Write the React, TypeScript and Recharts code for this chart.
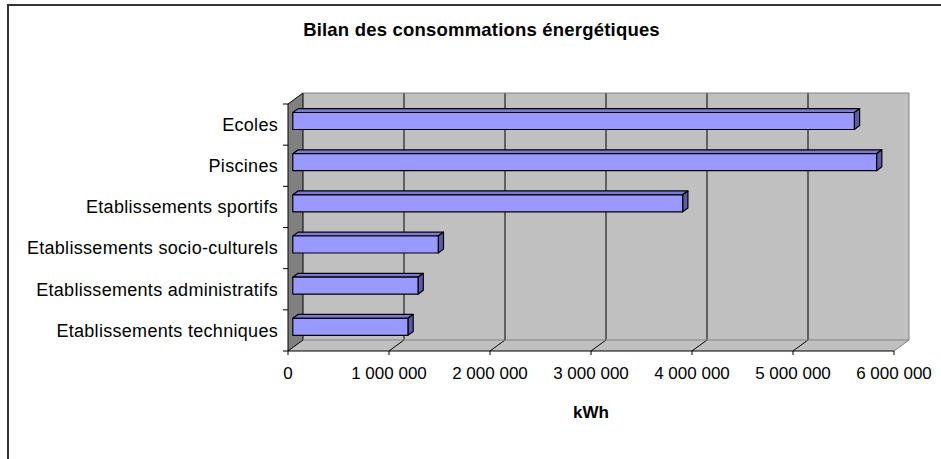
import { Bar, BarChart, ReferenceArea, XAxis, YAxis } from "recharts";

const categories = [
  "Ecoles",
  "Piscines",
  "Etablissements sportifs",
  "Etablissements socio-culturels",
  "Etablissements administratifs",
  "Etablissements techniques",
];
const consumption = [5560000, 5780000, 3860000, 1440000, 1240000, 1140000];
const xTicks = [0, 1000000, 2000000, 3000000, 4000000, 5000000, 6000000];

const FONT = '"Liberation Sans", Arial, sans-serif';
// 3D depth of the plot box (back wall offset) and bar depth fractions
const DX = 15;
const DY = 11;
const BAR_D1 = 0.32;
const BAR_D2 = 0.67;

const data = categories.map((name, i) => ({ name, kwh: consumption[i] }));

function formatKwh(v: number): string {
  return String(v).replace(/\B(?=(\d{3})+(?!\d))/g, " ");
}

function Walls(props: any) {
  const { x, y, width, height } = props;
  const max = xTicks[xTicks.length - 1];
  const bottom = y + height;
  return (
    <g>
      <rect x={x + DX} y={y - DY} width={width} height={height} fill="#c0c0c0" />
      <polygon
        points={`${x},${y} ${x + DX},${y - DY} ${x + DX},${bottom - DY} ${x},${bottom}`}
        fill="#808080"
      />
      <polygon
        points={`${x},${bottom} ${x + DX},${bottom - DY} ${x + width + DX},${bottom - DY} ${x + width},${bottom}`}
        fill="#c0c0c0"
      />
      {xTicks.map((t, i) => {
        const fx = x + (t / max) * width;
        const last = i === xTicks.length - 1;
        const stroke = last ? "#808080" : "#000";
        return (
          <g key={t}>
            <line x1={fx + DX} y1={y - DY} x2={fx + DX} y2={bottom - DY} stroke={stroke} />
            <line x1={fx} y1={bottom} x2={fx + DX} y2={bottom - DY} stroke={stroke} />
          </g>
        );
      })}
      <line x1={x + DX} y1={y - DY} x2={x + width + DX} y2={y - DY} stroke="#808080" />
      <line x1={x + DX} y1={bottom - DY} x2={x + width + DX} y2={bottom - DY} stroke="#808080" />
      <line x1={x} y1={y} x2={x + DX} y2={y - DY} stroke="#000" />
    </g>
  );
}

function Bar3D(props: any) {
  const { x, y, width, height } = props;
  if (width == null || width <= 0) return null;
  const fx = x + BAR_D1 * DX;
  const fy = y - BAR_D1 * DY;
  const dx = (BAR_D2 - BAR_D1) * DX;
  const dy = (BAR_D2 - BAR_D1) * DY;
  const r = fx + width;
  return (
    <g stroke="#000" strokeWidth={1.2} strokeLinejoin="round">
      <polygon
        points={`${fx},${fy} ${fx + dx},${fy - dy} ${r + dx},${fy - dy} ${r},${fy}`}
        fill="#7a7ad6"
      />
      <polygon
        points={`${r},${fy} ${r + dx},${fy - dy} ${r + dx},${fy + height - dy} ${r},${fy + height}`}
        fill="#5c5ca6"
      />
      <rect x={fx} y={fy} width={width} height={height} fill="#9999ff" />
    </g>
  );
}

function CategoryTick(props: any) {
  const { x, y, payload, index, visibleTicksCount } = props;
  const half = payload.offset ?? 20.6;
  const axisX = x + 10;
  return (
    <g>
      <line x1={axisX - 5} y1={y - half} x2={axisX} y2={y - half} stroke="#000" />
      {index === visibleTicksCount - 1 && (
        <line x1={axisX - 5} y1={y + half} x2={axisX} y2={y + half} stroke="#000" />
      )}
      <text
        x={x}
        y={y}
        dy="0.355em"
        textAnchor="end"
        fontSize={18}
        letterSpacing={0.3}
        fontFamily={FONT}
        fill="#000"
      >
        {payload.value}
      </text>
    </g>
  );
}

export default function App() {
  return (
    <div
      style={{
        position: "absolute",
        left: 0,
        top: 0,
        width: 941,
        height: 459,
        overflow: "hidden",
        background: "#fff",
      }}
    >
      <div
        style={{
          position: "absolute",
          left: 7,
          top: 4,
          width: 1200,
          height: 1200,
          borderTop: "2px solid #333",
          borderLeft: "2px solid #333",
        }}
      />
      <div
        style={{
          position: "absolute",
          left: 0,
          top: 20,
          width: 963,
          textAlign: "center",
          fontFamily: FONT,
          fontWeight: "bold",
          fontSize: 18.5,
          letterSpacing: 0.2,
          lineHeight: "20px",
        }}
      >
        Bilan des consommations énergétiques
      </div>
      <div style={{ position: "absolute", left: 0, top: 0 }}>
        <BarChart
          width={941}
          height={459}
          data={data}
          layout="vertical"
          margin={{ top: 104, right: 47, bottom: 0, left: 0 }}
        >
          <ReferenceArea
            x1={xTicks[0]}
            x2={xTicks[xTicks.length - 1]}
            shape={<Walls />}
            ifOverflow="visible"
          />
          <XAxis
            type="number"
            domain={[0, 6000000]}
            ticks={xTicks}
            tickFormatter={formatKwh}
            height={108}
            tickSize={4}
            tickMargin={12}
            stroke="#000"
            tick={{ fontSize: 17, fontFamily: FONT, fill: "#000" }}
            label={{
              value: "kWh",
              position: "insideBottom",
              offset: 41,
              style: { fontSize: 17, fontWeight: "bold", fontFamily: FONT, fill: "#000" },
            }}
          />
          <YAxis
            type="category"
            dataKey="name"
            width={288}
            tickSize={5}
            tickMargin={5}
            tickLine={false}
            stroke="#000"
            interval={0}
            tick={<CategoryTick />}
          />
          <Bar dataKey="kwh" barSize={17} shape={<Bar3D />} isAnimationActive={false} />
        </BarChart>
      </div>
    </div>
  );
}
